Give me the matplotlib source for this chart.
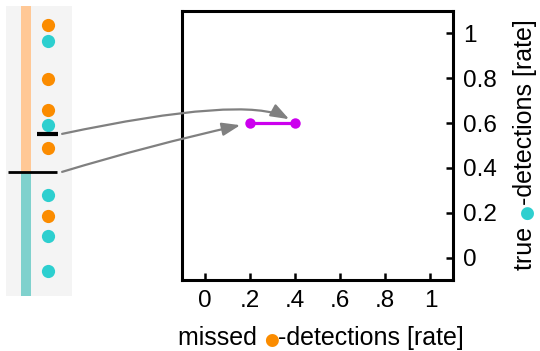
import matplotlib
matplotlib.use("Agg")
import matplotlib.pyplot as plt
from matplotlib.patches import ConnectionPatch

plt.rcParams['font.family'] = ['Liberation Sans', 'DejaVu Sans']

# ---- data ----
orange_scores = [0.934, 0.748, 0.641, 0.510, 0.276]
cyan_scores = [0.879, 0.590, 0.348, 0.207, 0.086]
thresholds = [0.559, 0.428]          # short line, long line
missed_rate = [0.2, 0.4]
true_rate = [0.6, 0.6]
xtick_vals = [0, 0.2, 0.4, 0.6, 0.8, 1]
xtick_labels = ["0", ".2", ".4", ".6", ".8", "1"]
ytick_vals = [0, 0.2, 0.4, 0.6, 0.8, 1]
ytick_labels = ["0", "0.2", "0.4", "0.6", "0.8", "1"]

ORANGE = "#fb8c00"
CYAN = "#2dcfcf"
MAGENTA = "#cc00ee"
FS_TICK = 17.5
FS_LAB = 18

W, H = 540, 351
fig = plt.figure(figsize=(W / 100, H / 100), dpi=100)

def px_axes(x0, y0, x1, y1):
    return fig.add_axes([x0 / W, 1 - y1 / H, (x1 - x0) / W, (y1 - y0) / H])

# ---- left panel ----
axl = px_axes(6, 6, 72, 296)
axl.set_facecolor("#f4f4f4")
axl.set_xlim(0, 1)
axl.set_ylim(0, 1)
for s in axl.spines.values():
    s.set_visible(False)
axl.set_xticks([])
axl.set_yticks([])
axl.bar(0.30, 1 - thresholds[1], bottom=thresholds[1], width=0.15, color="#ffc896")
axl.bar(0.30, thresholds[1], bottom=0, width=0.15, color="#7fd1cd")
axl.plot([0.636] * len(orange_scores), orange_scores, "o", color=ORANGE, ms=9.5, mec="none")
axl.plot([0.636] * len(cyan_scores), cyan_scores, "o", color=CYAN, ms=9.5, mec="none")
axl.plot([0.47, 0.79], [thresholds[0]] * 2, color="black", lw=3, solid_capstyle="butt")
axl.plot([0.03, 0.77], [thresholds[1]] * 2, color="black", lw=2, solid_capstyle="butt")

# ---- main axes ----
ax = px_axes(182, 11, 453, 280)
ax.set_xlim(-0.1, 1.1)
ax.set_ylim(-0.1, 1.1)
for s in ax.spines.values():
    s.set_linewidth(2.2)
ax.set_xticks(xtick_vals)
ax.set_xticklabels(xtick_labels)
ax.set_yticks(ytick_vals)
ax.set_yticklabels(ytick_labels)
ax.yaxis.tick_right()
ax.tick_params(axis="both", direction="in", length=5, width=1.8, labelsize=FS_TICK, pad=7)
ax.plot(missed_rate, true_rate, "-o", color=MAGENTA, lw=2.3, ms=7.5, mec="none")

# arrows
for i, style in enumerate(["angle3,angleA=12,angleB=-40", "arc3,rad=-0.02"]):
    cp = ConnectionPatch(xyA=(0.85, thresholds[i]), coordsA=axl.transData,
                         xyB=(missed_rate[1 - i], true_rate[1 - i]), coordsB=ax.transData,
                         arrowstyle="-|>,head_length=0.55,head_width=0.2",
                         connectionstyle=style, color="#808080", lw=1.6,
                         mutation_scale=20, shrinkA=0, shrinkB=5 + 2 * i)
    fig.add_artist(cp)

# ---- axis labels with coloured dots ----
fig.canvas.draw()
r = fig.canvas.get_renderer()

def make_text(x, y, s, c, **kw):
    fam = ['DejaVu Sans'] if s == "●" else ['Liberation Sans', 'DejaVu Sans']
    size = FS_LAB * 0.68 if s == "●" else FS_LAB
    return fig.text(x, y, s, color=c, fontsize=size, family=fam, va="baseline", ha="left",
                    transform=fig.transFigure, **kw)

def hlabel(pieces, x_center, y):
    texts = [make_text(0, y / H, s, c) for s, c in pieces]
    widths = [t.get_window_extent(r).width for t in texts]
    x = x_center - sum(widths) / 2
    for t, w in zip(texts, widths):
        t.set_x(x / W)
        x += w

def vlabel(pieces, x, y_center):
    texts = [make_text(x / W, 0, s, c, rotation=90, rotation_mode="anchor") for s, c in pieces]
    heights = [t.get_window_extent(r).height for t in texts]
    y = y_center - sum(heights) / 2
    for t, h in zip(texts, heights):
        t.set_y(y / H)
        y += h

hlabel([("missed ", "black"), ("●", ORANGE), ("-detections [rate]", "black")], 321, H - 345)
vlabel([("true ", "black"), ("●", CYAN), ("-detections [rate]", "black")], 532, H - 145)

fig.savefig("out.png", dpi=100)
